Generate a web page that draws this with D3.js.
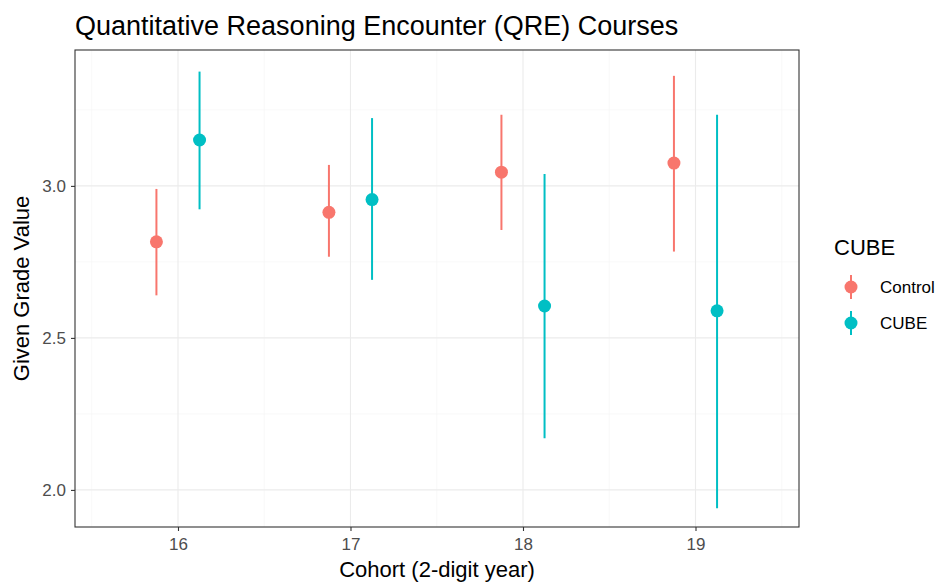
<!DOCTYPE html>
<meta charset="utf-8">
<script src="https://d3js.org/d3.v7.min.js"></script>
<style>
  body { margin: 0; background: #fff; }
  text { font-family: "Liberation Sans", Arial, sans-serif; }
</style>
<svg id="chart" width="938" height="582"></svg>
<script>

// Data
var cohorts = [16, 17, 18, 19];
var groups = ["Control", "CUBE"];
var controlMean = [2.816, 2.913, 3.045, 3.075];
var controlLow  = [2.640, 2.767, 2.855, 2.784];
var controlHigh = [2.990, 3.069, 3.234, 3.362];
var cubeMean = [3.151, 2.955, 2.605, 2.589];
var cubeLow  = [2.923, 2.691, 2.170, 1.940];
var cubeHigh = [3.376, 3.223, 3.039, 3.234];
var yTicks = [2.0, 2.5, 3.0];

var rows = [];
cohorts.forEach(function(c, i) {
  rows.push({cohort: c, group: "Control", mean: controlMean[i], low: controlLow[i], high: controlHigh[i]});
  rows.push({cohort: c, group: "CUBE", mean: cubeMean[i], low: cubeLow[i], high: cubeHigh[i]});
});

var svg = d3.select("#chart");
var pLeft = 75, pRight = 799, pTop = 50, pBottom = 527;

var x = d3.scaleLinear().domain([15.403, 19.6]).range([pLeft, pRight]);
var y = d3.scaleLinear().domain([1.878, 3.447]).range([pBottom, pTop]);
var color = d3.scaleOrdinal().domain(groups).range(["#F8766D", "#00BFC4"]);
var dodge = {"Control": -0.125, "CUBE": 0.125};

// minor grid
var g = svg.append("g");
[15.5, 16.5, 17.5, 18.5, 19.5].forEach(function(v) {
  g.append("line").attr("x1", x(v)).attr("x2", x(v)).attr("y1", pTop).attr("y2", pBottom)
    .attr("stroke", "#F3F3F3").attr("stroke-width", 0.6);
});
[2.25, 2.75, 3.25].forEach(function(v) {
  g.append("line").attr("x1", pLeft).attr("x2", pRight).attr("y1", y(v)).attr("y2", y(v))
    .attr("stroke", "#F3F3F3").attr("stroke-width", 0.6);
});
// major grid
cohorts.forEach(function(v) {
  g.append("line").attr("x1", x(v)).attr("x2", x(v)).attr("y1", pTop).attr("y2", pBottom)
    .attr("stroke", "#EBEBEB").attr("stroke-width", 1.1);
});
yTicks.forEach(function(v) {
  g.append("line").attr("x1", pLeft).attr("x2", pRight).attr("y1", y(v)).attr("y2", y(v))
    .attr("stroke", "#EBEBEB").attr("stroke-width", 1.1);
});

// error bars and points
svg.selectAll(".bar").data(rows).enter().append("line")
  .attr("x1", function(d) { return x(d.cohort + dodge[d.group]); })
  .attr("x2", function(d) { return x(d.cohort + dodge[d.group]); })
  .attr("y1", function(d) { return y(d.low); })
  .attr("y2", function(d) { return y(d.high); })
  .attr("stroke", function(d) { return color(d.group); })
  .attr("stroke-width", 2);

svg.selectAll(".pt").data(rows).enter().append("circle")
  .attr("cx", function(d) { return x(d.cohort + dodge[d.group]); })
  .attr("cy", function(d) { return y(d.mean); })
  .attr("r", 6.5)
  .attr("fill", function(d) { return color(d.group); });

// panel border
svg.append("rect").attr("x", pLeft).attr("y", pTop).attr("width", pRight - pLeft).attr("height", pBottom - pTop)
  .attr("fill", "none").attr("stroke", "#333333").attr("stroke-width", 1.1);

// axes
var xAxis = svg.append("g").attr("transform", "translate(0," + pBottom + ")")
  .call(d3.axisBottom(x).tickValues(cohorts).tickSize(4).tickPadding(7).tickFormat(d3.format("d")));
var yAxis = svg.append("g").attr("transform", "translate(" + pLeft + ",0)")
  .call(d3.axisLeft(y).tickValues(yTicks).tickSize(4).tickPadding(5).tickFormat(d3.format(".1f")));
[xAxis, yAxis].forEach(function(a) {
  a.select(".domain").remove();
  a.selectAll(".tick line").attr("stroke", "#333333").attr("stroke-width", 1.1);
  a.selectAll(".tick text").attr("fill", "#4D4D4D").style("font-size", "17px")
    .style("font-family", "'Liberation Sans', Arial, sans-serif");
});

// titles
svg.append("text").attr("x", pLeft).attr("y", 35).text("Quantitative Reasoning Encounter (QRE) Courses")
  .style("font-size", "27px").attr("fill", "#000");
svg.append("text").attr("x", (pLeft + pRight) / 2).attr("y", 577).attr("text-anchor", "middle")
  .text("Cohort (2-digit year)").style("font-size", "22px").attr("fill", "#000");
svg.append("text").attr("transform", "translate(29," + ((pTop + pBottom) / 2) + ") rotate(-90)")
  .attr("text-anchor", "middle").text("Given Grade Value").style("font-size", "22px").attr("fill", "#000");

// legend
var leg = svg.append("g").attr("transform", "translate(834,0)");
leg.append("text").attr("x", 0).attr("y", 255).text("CUBE").style("font-size", "22px");
groups.forEach(function(grp, i) {
  var cy = 287 + i * 36;
  leg.append("line").attr("x1", 17).attr("x2", 17).attr("y1", cy - 12).attr("y2", cy + 12)
    .attr("stroke", color(grp)).attr("stroke-width", 2);
  leg.append("circle").attr("cx", 17).attr("cy", cy).attr("r", 6.5).attr("fill", color(grp));
  leg.append("text").attr("x", 46).attr("y", cy + 6).text(grp).style("font-size", "17px");
});

</script>
